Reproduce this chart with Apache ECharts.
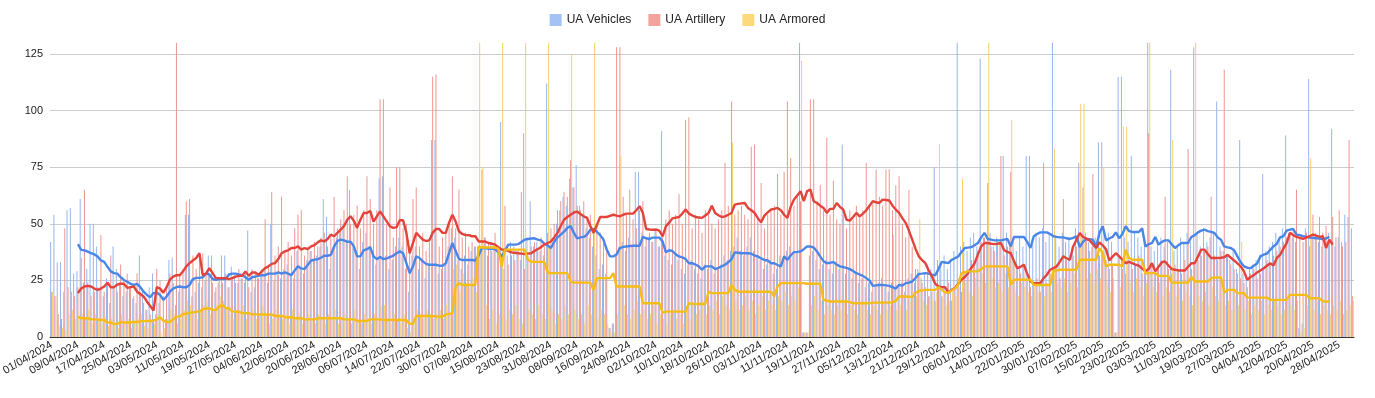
<!DOCTYPE html>
<html>
<head>
<meta charset="utf-8">
<script src="https://cdn.jsdelivr.net/npm/echarts@6/dist/echarts.min.js"></script>
<style>
  html, body { margin: 0; padding: 0; background: #fff; }
  #chart { width: 1375px; height: 398px; }
</style>
</head>
<body>
<div id="chart"></div>
<script>
// daily categories, 01/04/2024 .. 02/05/2025
const DAY_COUNT = 397
const dates = []
for (let i = 0; i < DAY_COUNT; i++) {
  const d = new Date(Date.UTC(2024, 3, 1 + i))
  dates.push(String(d.getUTCDate()).padStart(2, '0') + '/' +
    String(d.getUTCMonth() + 1).padStart(2, '0') + '/' + d.getUTCFullYear())
}

const yTicks = [0, 25, 50, 75, 100, 125]

// daily bars (tall ones clipped at 130)
const vehicles = [
  42, 54, 33, 33, 20, 56, 57, 28, 29, 61,
  24, 30, 50, 50, 40, 22, 18, 26, 15, 40,
  30, 24, 18, 20, 22, 17, 15, 36, 20, 12,
  22, 28, 10, 15, 0, 8, 34, 35, 14, 20,
  22, 54, 54, 18, 20, 24, 22, 25, 36, 36,
  20, 24, 36, 36, 22, 31, 28, 24, 26, 24,
  47, 20, 22, 26, 28, 30, 24, 50, 25, 28,
  26, 30, 32, 28, 26, 38, 30, 28, 34, 38,
  34, 36, 40, 61, 53, 30, 38, 44, 48, 50,
  42, 65, 40, 36, 30, 42, 46, 40, 38, 32,
  70, 71, 36, 30, 34, 40, 44, 40, 30, 20,
  36, 40, 30, 34, 26, 32, 87, 87, 28, 30,
  32, 40, 48, 44, 34, 30, 36, 32, 38, 40,
  40, 38, 44, 36, 42, 40, 38, 95, 30, 36,
  42, 40, 38, 34, 90, 44, 60, 40, 42, 38,
  36, 112, 40, 44, 50, 56, 62, 58, 70, 66,
  76, 58, 54, 48, 44, 40, 36, 30, 32, 28,
  4, 6, 36, 40, 42, 38, 44, 40, 73, 73,
  46, 40, 44, 42, 48, 40, 91, 36, 34, 32,
  36, 34, 30, 28, 32, 34, 30, 28, 26, 32,
  30, 34, 28, 30, 32, 36, 34, 38, 40, 44,
  38, 36, 40, 44, 38, 36, 34, 30, 32, 34,
  28, 30, 36, 34, 38, 40, 36, 38, 130, 2,
  2, 36, 38, 34, 30, 32, 34, 30, 28, 32,
  30, 85, 28, 30, 26, 28, 24, 26, 22, 24,
  20, 22, 24, 26, 22, 20, 24, 22, 22, 24,
  20, 26, 28, 24, 30, 26, 28, 32, 30, 75,
  34, 32, 36, 30, 34, 38, 130, 40, 42, 38,
  44, 46, 40, 123, 44, 42, 46, 40, 44, 42,
  80, 46, 40, 42, 38, 44, 40, 80, 80, 42,
  46, 44, 48, 42, 46, 130, 44, 40, 46, 42,
  44, 40, 48, 77, 44, 46, 42, 40, 44, 86,
  86, 40, 46, 42, 2, 115, 115, 44, 42, 80,
  46, 44, 40, 42, 130, 40, 38, 42, 44, 40,
  42, 118, 38, 40, 44, 42, 46, 42, 128, 46,
  40, 48, 42, 44, 46, 104, 40, 38, 36, 34,
  38, 30, 87, 28, 26, 30, 32, 34, 36, 72,
  38, 40, 42, 46, 44, 48, 89, 46, 44, 42,
  4, 6, 48, 114, 44, 46, 42, 40, 44, 46,
  92, 40, 44, 42, 54, 53, 48
]
const artillery = [
  20, 18, 10, 8, 48, 22, 20, 18, 22, 35,
  65, 24, 18, 20, 22, 45, 20, 24, 36, 22,
  20, 32, 25, 28, 22, 18, 28, 20, 15, 12,
  10, 8, 30, 25, 18, 22, 28, 24, 130, 28,
  30, 60, 61, 36, 30, 35, 37, 28, 27, 24,
  22, 26, 24, 28, 22, 26, 24, 30, 26, 28,
  22, 30, 28, 26, 30, 52, 32, 64, 36, 40,
  62, 38, 42, 36, 48, 54, 56, 36, 40, 38,
  42, 40, 44, 46, 40, 44, 62, 48, 52, 56,
  71, 50, 54, 58, 48, 56, 71, 61, 50, 56,
  105, 105, 50, 66, 44, 75, 75, 48, 50, 40,
  61, 66, 40, 46, 38, 42, 115, 116, 40, 44,
  46, 50, 71, 48, 65, 44, 46, 40, 42, 40,
  40, 74, 44, 42, 38, 46, 40, 36, 58, 32,
  36, 34, 38, 64, 30, 36, 40, 42, 38, 44,
  40, 46, 48, 50, 56, 60, 64, 62, 78, 66,
  58, 56, 60, 52, 54, 48, 50, 46, 44, 40,
  4, 6, 128, 128, 62, 54, 65, 52, 48, 56,
  60, 44, 46, 42, 48, 40, 46, 52, 56, 50,
  54, 63, 50, 96, 97, 48, 54, 52, 46, 56,
  54, 50, 48, 52, 56, 77, 58, 104, 54, 56,
  58, 54, 52, 84, 85, 52, 68, 48, 54, 56,
  58, 72, 54, 73, 104, 79, 58, 62, 60, 2,
  2, 105, 105, 60, 67, 56, 88, 54, 69, 52,
  50, 54, 48, 56, 52, 58, 54, 56, 77, 58,
  60, 74, 62, 58, 74, 74, 56, 67, 71, 50,
  44, 65, 40, 30, 28, 24, 22, 18, 20, 16,
  22, 18, 20, 24, 16, 22, 26, 20, 28, 30,
  34, 32, 38, 42, 44, 68, 40, 38, 42, 80,
  36, 40, 73, 34, 30, 28, 32, 26, 22, 24,
  26, 20, 77, 24, 28, 30, 32, 26, 61, 34,
  30, 36, 40, 42, 66, 44, 38, 72, 40, 36,
  38, 34, 30, 32, 2, 36, 30, 28, 34, 30,
  32, 36, 28, 30, 90, 32, 28, 30, 34, 62,
  30, 28, 32, 30, 28, 34, 83, 30, 32, 34,
  36, 38, 40, 62, 36, 34, 38, 118, 36, 32,
  30, 28, 26, 24, 22, 28, 30, 26, 28, 30,
  34, 32, 36, 38, 40, 42, 44, 46, 48, 65,
  44, 42, 46, 40, 54, 44, 53, 46, 49, 42,
  53, 44, 56, 40, 42, 87, 18
]
const armored = [
  20, 18, 5, 4, 3, 10, 12, 8, 9, 10,
  8, 12, 6, 10, 8, 6, 9, 5, 8, 6,
  4, 10, 6, 8, 4, 6, 8, 10, 5, 4,
  8, 6, 10, 2, 4, 8, 12, 10, 6, 8,
  12, 16, 14, 10, 8, 12, 14, 16, 10, 12,
  14, 18, 16, 12, 10, 8, 12, 10, 14, 8,
  10, 12, 8, 10, 14, 10, 6, 8, 12, 10,
  8, 10, 6, 12, 8, 10, 6, 8, 10, 8,
  6, 10, 8, 6, 10, 8, 12, 6, 8, 10,
  8, 6, 12, 8, 6, 10, 8, 6, 10, 8,
  14, 14, 8, 6, 10, 8, 6, 10, 4, 2,
  6, 12, 10, 8, 12, 10, 8, 10, 12, 8,
  14, 10, 30, 32, 20, 28, 24, 22, 26, 20,
  130, 75, 14, 8, 12, 6, 10, 130, 8, 12,
  10, 14, 8, 6, 130, 12, 10, 8, 14, 10,
  8, 130, 12, 6, 10, 8, 14, 10, 125, 12,
  8, 10, 6, 14, 10, 130, 8, 12, 10, 6,
  2, 2, 10, 80, 14, 10, 8, 12, 16, 10,
  12, 8, 10, 14, 6, 10, 8, 6, 10, 12,
  8, 10, 6, 12, 8, 14, 10, 12, 16, 10,
  14, 12, 16, 10, 18, 14, 12, 86, 16, 12,
  14, 18, 12, 16, 10, 14, 18, 12, 16, 14,
  12, 18, 16, 20, 14, 18, 16, 22, 122, 2,
  2, 14, 18, 12, 16, 10, 14, 12, 10, 14,
  12, 16, 10, 14, 12, 10, 14, 16, 12, 10,
  14, 12, 10, 16, 12, 14, 45, 12, 14, 18,
  12, 16, 20, 18, 52, 16, 14, 18, 16, 20,
  85, 18, 14, 16, 20, 18, 22, 70, 24, 20,
  18, 26, 22, 28, 24, 130, 26, 22, 24, 20,
  28, 22, 96, 20, 18, 24, 22, 20, 18, 22,
  20, 24, 18, 22, 20, 83, 24, 22, 26, 20,
  24, 28, 22, 103, 103, 26, 28, 24, 30, 26,
  75, 24, 20, 26, 2, 22, 93, 93, 24, 20,
  26, 22, 18, 24, 130, 22, 20, 24, 18, 22,
  20, 87, 18, 22, 16, 20, 18, 14, 130, 18,
  16, 20, 14, 22, 18, 16, 20, 14, 16, 12,
  18, 14, 42, 12, 16, 10, 14, 12, 16, 10,
  14, 12, 16, 14, 10, 12, 16, 14, 12, 16,
  2, 4, 14, 79, 12, 16, 10, 14, 12, 10,
  14, 12, 16, 10, 12, 14, 16
]

// moving-average trend lines; they start on day 8
const AVG_FROM = 8
const vehiclesAvg = [
  41, 38.5, 38.3, 37.7, 37, 36.5, 35.6, 33.8, 33.2, 31,
  29, 28.2, 28, 26.4, 25.2, 24.4, 23.5, 23, 23.5, 22,
  20, 18.6, 17.6, 19.4, 19.6, 18.6, 16.4, 17.9, 20, 21.4,
  22, 22.3, 22, 22, 23, 25.6, 26.1, 26.1, 26.4, 28,
  27.6, 25.6, 25.3, 25.6, 25.6, 25.6, 27.6, 28, 28, 27.6,
  27.3, 26.4, 25.3, 26.4, 26.7, 27, 27.3, 27.3, 28, 28,
  28, 28.5, 28, 28.5, 28, 27.3, 29.4, 31.2, 30.3, 30,
  31.9, 33.8, 34.1, 34.4, 35, 35.9, 35.9, 36.3, 40, 42.4,
  43, 42.7, 42.1, 42.1, 40, 35.6, 35.6, 38.3, 38.8, 39.7,
  35.6, 34.4, 35.3, 34.4, 34.7, 35.3, 35.9, 37, 37.8, 37,
  32.6, 28.2, 31.2, 35.6, 34.9, 33.4, 32.3, 31.9, 31.9, 31.9,
  31.5, 31.5, 32.6, 37, 41.5, 38, 34.5, 34, 34, 34,
  34, 33.8, 36, 39.3, 39.3, 39, 39, 38.8, 37.5, 35.6,
  38, 40.8, 40.8, 40.8, 41, 42, 43, 43.3, 43.5, 43.6,
  43, 42.7, 41.2, 40.5, 39.3, 42, 44, 45.2, 46.5, 48.2,
  49, 46, 43.6, 44, 44.2, 45.2, 47.4, 47.7, 46.5, 45,
  43, 38.6, 35.6, 35.6, 36.5, 39.3, 39.8, 40, 40.2, 40.3,
  40.3, 40.3, 44.2, 43.6, 43.3, 43.9, 43.9, 43.9, 42.2, 37.4,
  38.3, 38, 36.5, 35.6, 35.2, 34.5, 32.6, 32.6, 32, 31.2,
  29.7, 31.2, 31.2, 31.2, 30, 30.5, 31.2, 31.9, 33, 34.4,
  37.4, 37.2, 37, 37, 37, 36.8, 36, 35.6, 34.7, 34,
  33.8, 32.6, 32.6, 31.8, 31.2, 35.6, 34.1, 36, 37.5, 37.6,
  37.8, 38.8, 40, 40, 39.5, 37.8, 35.5, 33.5, 32.6, 32.8,
  33.1, 32, 31.2, 30.9, 30.5, 30, 29.2, 28.2, 27.6, 27,
  26, 25, 22.6, 22.8, 23, 23, 22.8, 22.6, 22, 21.4,
  23, 22.7, 23.8, 24, 24.5, 26, 27.9, 28, 28.2, 28,
  27.5, 27.2, 30, 33.2, 32.9, 32.6, 34.1, 34.8, 35.6, 37.5,
  39.3, 39.5, 39.7, 40.5, 41.5, 44, 46, 43.3, 43, 42.7,
  42.7, 42.7, 43, 43.3, 40, 44.2, 44.2, 44.2, 44.2, 42,
  39.3, 44.5, 45.5, 46.2, 46.2, 46.2, 45.5, 44.5, 44.2, 44,
  44, 43.6, 43.3, 43.8, 44.5, 39.7, 42, 43.3, 43.2, 43,
  39.7, 46, 48.9, 42.7, 43.5, 44.2, 46.2, 43.6, 45.5, 48.9,
  46.8, 46.4, 46.4, 46.4, 48, 40, 41, 41.5, 44.2, 40.8,
  42, 42.7, 42.7, 41, 39.3, 40.5, 41.5, 41.5, 41.5, 44.2,
  45, 46.2, 47, 47.4, 46.8, 46.4, 46, 44, 43, 40,
  39.6, 39.3, 38.3, 35.6, 33, 31.2, 30.6, 30.4, 31.5, 32.5,
  35.6, 36.4, 36.8, 38.5, 40, 41.2, 44, 44.5, 47, 47.4,
  47.7, 45.2, 45, 44.5, 44.2, 43.9, 43.8, 43.6, 43.5, 43.3,
  43.5, 44.2
]
const artilleryAvg = [
  19.4, 21.4, 22.3, 22.6, 22.3, 21.4, 20.8, 21.4, 22.3, 24,
  22, 22, 23.2, 23.5, 23.5, 21.7, 22, 22.3, 20, 19,
  17.9, 15.7, 13.7, 11.7, 22, 21.4, 19.6, 22, 25.3, 26.7,
  27.3, 27.3, 29, 31.2, 32.6, 33.8, 34.9, 37, 27.3, 28,
  30.4, 28.2, 26, 26, 26, 26, 25.6, 26, 26.7, 27,
  27, 29, 27, 28.5, 28.5, 27.5, 29, 30.4, 31.2, 32.3,
  32.6, 34.4, 37, 37.8, 38.3, 39.3, 39.3, 40, 38.6, 39.3,
  38.8, 40, 40.6, 41.8, 42.7, 42.2, 43.3, 45.2, 44.5, 46,
  47.4, 48.9, 51.8, 53.3, 51.3, 48.2, 51.8, 54.8, 54.8, 55.7,
  51, 53.3, 55.5, 53.3, 51.1, 48.9, 48.2, 48.5, 51.6, 51.6,
  46, 37, 41.5, 46, 44.5, 43, 42.4, 42.7, 46, 47.7,
  47.7, 46, 46, 50.5, 54, 51, 46.7, 45.5, 45, 45,
  44.5, 44.5, 42.2, 42.2, 42.2, 41.5, 41.2, 40.8, 39.7, 38.6,
  38.6, 38, 37.4, 37.2, 37, 36.8, 36.6, 36.8, 37, 38,
  38.8, 39.8, 40.8, 41.5, 42.2, 44, 46, 49, 51.8, 53,
  54, 55, 55.4, 54.3, 53.3, 52.6, 49, 46, 49.5, 53,
  53, 53, 53.5, 54, 53.6, 53.3, 54, 54.5, 54.5, 54.5,
  56, 57.8, 54.8, 47.7, 47.5, 47.4, 47.4, 47, 44.5, 48.9,
  50.5, 52.4, 52.7, 53, 54.5, 56.3, 54.5, 53.7, 53, 52.8,
  52.6, 53.7, 54.8, 58, 54.8, 53.8, 53, 53.3, 54, 54.8,
  58.5, 58.8, 59, 59.2, 57, 56, 54.8, 52.5, 50.7, 53.6,
  55, 56.3, 56.6, 57, 56, 54, 52.6, 57.5, 60.7, 62.5,
  64.4, 60, 64.4, 65.1, 60, 59.2, 58, 57, 54.8, 56.6,
  56.6, 59.2, 57.5, 56.3, 51.8, 51.4, 53, 54.8, 53.3, 54.5,
  56, 58, 60, 59.5, 59.2, 60.7, 60.5, 60.3, 58, 56.3,
  54.8, 52.5, 50.4, 47, 43, 39, 35.6, 34, 32.6, 29.5,
  26.7, 23.5, 22.3, 22, 22, 19.6, 20.8, 21.6, 23.5, 25.3,
  26.5, 28.2, 30.5, 32.6, 36.5, 40, 41.5, 41.5, 41.2, 41,
  41.2, 41.5, 38.3, 37.6, 37, 33.5, 30.4, 31, 31.9, 28,
  24.5, 23.8, 23.8, 23.8, 26, 27.5, 29.7, 30.4, 31.2, 33.4,
  35.6, 34.8, 34.1, 40, 43, 45.9, 44.2, 43.5, 42.7, 41,
  39.3, 41.8, 40.5, 38.8, 33.8, 35.5, 37, 35.6, 34.2, 32.6,
  33.2, 32.6, 31.9, 31.5, 30.2, 29, 30, 32.6, 29, 31,
  33, 33.4, 31.6, 30, 29.7, 29.4, 29.4, 29.4, 31, 32.6,
  32.6, 35.5, 38.6, 38.6, 36.7, 34.9, 34.9, 34.9, 35, 35.2,
  36.3, 35, 33.8, 32.5, 31.2, 29, 25.3, 26.5, 27.3, 28.5,
  29.4, 30.4, 31.5, 32.6, 31.6, 34.9, 36.3, 39, 41.5, 46,
  45, 44.2, 43.8, 43.3, 44, 44.5, 45.2, 44.8, 44.2, 44.5,
  39.3, 43, 40.8
]
const armoredAvg = [
  9, 8.3, 8.3, 8.3, 7.8, 7.8, 7.8, 7.5, 7.5, 6.4,
  6.4, 5.8, 5.8, 6.6, 6.4, 6.4, 6.4, 6.6, 6.6, 7,
  7, 7.1, 7.1, 7.1, 7.8, 8.7, 7.2, 6.6, 6.6, 7.8,
  9, 9, 10.2, 10.2, 10.8, 10.8, 11.2, 11.2, 12.3, 12.6,
  12.7, 12, 12, 13.4, 14.2, 12.7, 12.7, 11.2, 11.2, 11.2,
  10.5, 10.5, 10.5, 10, 10, 10, 10, 9.9, 9.9, 9.9,
  9.3, 9.3, 9.3, 8.7, 8.7, 8.7, 8.3, 8.3, 8.3, 7.8,
  7.8, 7.8, 7.8, 8.3, 8.3, 8.3, 8.3, 8.3, 8.3, 8.3,
  8.3, 7.8, 7.8, 7.8, 7.8, 7.1, 7.1, 7.1, 7.1, 7.8,
  7.8, 7.8, 7.8, 7.5, 7.5, 7.5, 7.5, 7.5, 7.5, 7.5,
  7.5, 5.8, 5.8, 9.3, 9.3, 9.3, 9.3, 9.3, 9.3, 9,
  9, 9, 9.9, 10.2, 10.5, 22.3, 23.8, 23, 23, 23,
  23, 23, 40, 39.5, 39.5, 39.5, 39.5, 39.5, 39, 31.2,
  38.6, 38.6, 38.6, 38.6, 38.6, 38.6, 38.6, 34.1, 33.2, 33.2,
  33.2, 33.2, 33.2, 28.5, 28.2, 28.2, 28.2, 28.2, 28.2, 28.2,
  24.5, 24, 24, 24, 24, 24, 24, 20.8, 26, 26,
  26, 26, 26, 28.2, 22.3, 22.3, 22.3, 22.3, 22.3, 22.3,
  22.3, 22.3, 14.9, 14.9, 14.9, 14.9, 14.9, 14.9, 10.8, 11.2,
  11.2, 11.2, 11.2, 11.2, 11.2, 11.2, 14.9, 14.6, 14.6, 14.6,
  14.6, 14.6, 20, 19.4, 19.4, 19.4, 19.4, 19.4, 19.4, 23,
  20.8, 20, 20, 20, 20, 20, 20, 20, 20, 20,
  20, 20, 17.9, 22.3, 23.8, 23.8, 23.8, 23.8, 23.8, 23.8,
  23.8, 23.8, 23.5, 23.5, 23.5, 23.5, 23.5, 16.4, 16, 15.7,
  15.7, 15.7, 15.7, 15.7, 15.7, 15.4, 14.9, 14.9, 14.9, 14.9,
  14.9, 14.9, 15.2, 15.2, 15.2, 15.2, 15.2, 15.2, 15.4, 16,
  17.9, 17.9, 17.9, 17.8, 17.6, 19.4, 20.4, 20.6, 20.8, 20.8,
  20.8, 20.8, 22, 21, 19.6, 19.6, 20.5, 21.4, 23, 28.2,
  28.6, 29, 29, 29, 29, 30, 31.2, 31.2, 31.2, 31.2,
  31.2, 31.2, 31.2, 31.2, 23, 25.3, 25.3, 25.3, 25.3, 25.3,
  25.3, 23, 23, 23, 23, 23, 23, 29.4, 29.4, 29.7,
  29.7, 29.7, 29.7, 29.7, 29.7, 34.1, 34.1, 34.1, 34.1, 34.1,
  34.1, 39.3, 37, 31.2, 31.9, 31.9, 31.9, 31.9, 31.2, 38.6,
  34.9, 34.1, 34.1, 34.1, 34.1, 27.9, 28.2, 28.2, 28.2, 27,
  27, 27, 27, 24, 24, 24, 24, 24, 24, 26.7,
  24.5, 24.5, 24.5, 24.5, 24.5, 26, 26.3, 26.3, 26.3, 19.6,
  20.8, 20.8, 20.8, 19.4, 19.4, 19.4, 17.4, 17.4, 17.4, 17.4,
  17.4, 17.4, 17.4, 16.4, 16.4, 16.4, 16.4, 16.4, 16.4, 18.6,
  18.6, 18.6, 18.6, 18.6, 18.6, 17.1, 17.1, 17.1, 17.1, 15.7,
  15.7, 15.7
]

function fromDay(avg) {
  return new Array(AVG_FROM).fill(null).concat(avg)
}

const FONT = 'Arial, "Liberation Sans", sans-serif'
const chart = echarts.init(document.getElementById('chart'), null, { renderer: 'canvas' })

// bars are a touch darker than the legend swatches: at ~1px wide they wash out
const barSeries = (name, data, color, swatch) => ({
  name,
  type: 'bar',
  data,
  barGap: '0%',
  barCategoryGap: '10%',
  clip: false, // the tall spikes poke above the 125 line like in the original
  itemStyle: { color },
  emphasis: { disabled: true },
  swatch,
})
const avgSeries = (name, data, color) => ({
  name,
  type: 'line',
  data: fromDay(data),
  showSymbol: false,
  symbol: 'none',
  z: 5,
  lineStyle: { width: 2.4, color },
  emphasis: { disabled: true },
})

const bars = [
  barSeries('UA Vehicles', vehicles, '#97b6ee', '#a4c2f4'),
  barSeries('UA Artillery', artillery, '#ee9690', '#f4a39c'),
  barSeries('UA Armored', armored, '#f9d06a', '#fcd97a'),
]

chart.setOption({
  animation: false,
  textStyle: { fontFamily: FONT },
  legend: {
    data: bars.map(s => ({ name: s.name, itemStyle: { color: s.swatch } })),
    top: 9,
    left: 'center',
    icon: 'rect',
    itemWidth: 12,
    itemHeight: 12,
    itemGap: 17,
    textStyle: { fontSize: 12, color: '#222', fontFamily: FONT },
  },
  grid: { left: 50, right: 21, top: 54, bottom: 61, outerBoundsMode: 'none', containLabel: false },
  xAxis: {
    type: 'category',
    data: dates,
    name: 'Date',
    nameLocation: 'middle',
    nameGap: 62,
    nameTextStyle: { fontSize: 12, color: '#222' },
    axisLine: { lineStyle: { color: '#333', width: 1 } },
    axisTick: { show: false },
    axisLabel: { interval: 7, rotate: 30, fontSize: 11, color: '#222', margin: 7 },
  },
  yAxis: {
    type: 'value',
    min: yTicks[0],
    max: yTicks[yTicks.length - 1],
    interval: 25,
    axisLine: { show: false },
    axisTick: { show: false },
    axisLabel: { fontSize: 11, color: '#222', margin: 7 },
    splitLine: { lineStyle: { color: '#cccccc', width: 1 } },
  },
  series: bars.concat([
    avgSeries('Vehicles trend', vehiclesAvg, '#4a86e8'),
    avgSeries('Artillery trend', artilleryAvg, '#e3433b'),
    avgSeries('Armored trend', armoredAvg, '#f6bd16'),
  ]),
})
</script>
</body>
</html>
